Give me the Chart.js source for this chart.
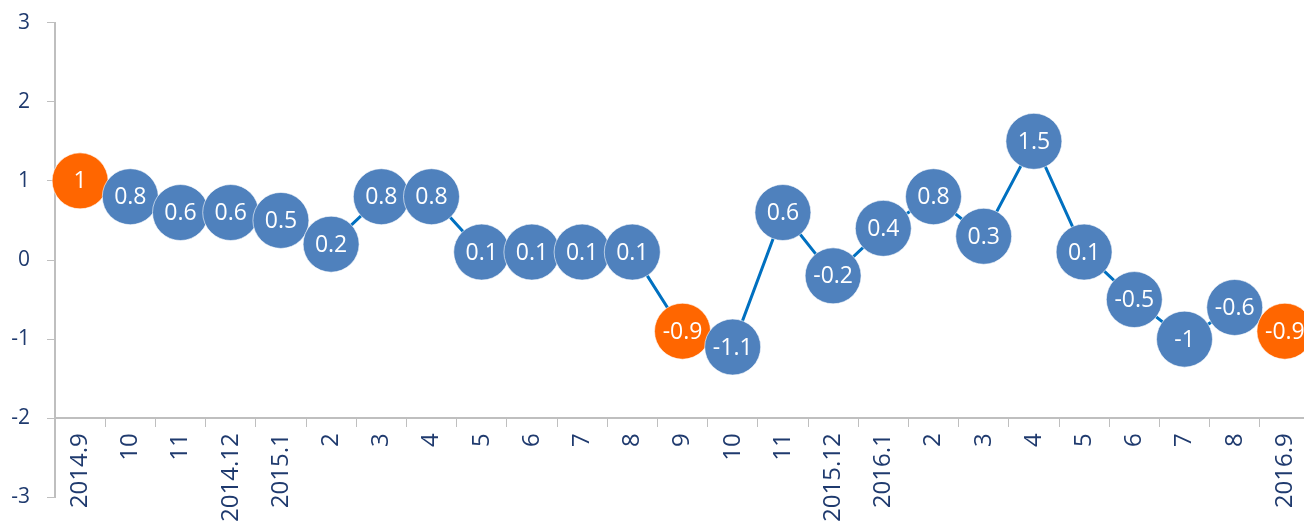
<!DOCTYPE html>
<html>
<head>
<meta charset="utf-8">
<script src="https://cdn.jsdelivr.net/npm/chart.js@4"></script>
<style>
    body { margin: 0; overflow: hidden; background: #fff; }
    /* canvas a bit bigger than the window: the reference cuts off the last marker */
    .wrap { position: absolute; left: 0; top: -7px; width: 1339px; height: 534px; }
</style>
</head>
<body>
<div class="wrap"><canvas id="myChart"></canvas></div>
<script>
const months = ['2014.9', '10', '11', '2014.12', '2015.1', '2', '3', '4', '5', '6', '7', '8', '9',
    '10', '11', '2015.12', '2016.1', '2', '3', '4', '5', '6', '7', '8', '2016.9'];
const values = [1, 0.8, 0.6, 0.6, 0.5, 0.2, 0.8, 0.8, 0.1, 0.1, 0.1, 0.1, -0.9,
    -1.1, 0.6, -0.2, 0.4, 0.8, 0.3, 1.5, 0.1, -0.5, -1, -0.6, -0.9];
const highlighted = [0, 12, 24];
const yTicks = [-3, -2, -1, 0, 1, 2, 3];

const navy = '#1f3a6e';
const axisGrey = '#bfbfbf';

const pointColors = values.map((v, i) => highlighted.includes(i) ? '#ff6600' : '#4f81bd');

// draw the value text inside each marker
const valueLabels = {
    id: 'valueLabels',
    afterDatasetsDraw(chart) {
        const ctx = chart.ctx;
        const meta = chart.getDatasetMeta(0);
        ctx.save();
        ctx.font = '23px "Open Sans"';
        ctx.fillStyle = '#ffffff';
        ctx.textAlign = 'center';
        ctx.textBaseline = 'middle';
        meta.data.forEach((pt, i) => {
            ctx.fillText(String(values[i]), pt.x, pt.y + 1);
        });
        ctx.restore();
    }
};

const ctx = document.getElementById('myChart').getContext('2d');
let chart = new Chart(ctx, {
    type: 'line',
    data: {
        labels: months,
        datasets: [{
            data: values,
            borderColor: '#0070c0',
            borderWidth: 3,
            tension: 0,
            pointRadius: 28,
            pointHoverRadius: 28,
            pointBackgroundColor: pointColors,
            pointBorderColor: 'rgba(255,255,255,0.6)',
            pointBorderWidth: 1
        }]
    },
    options: {
        responsive: true,
        maintainAspectRatio: false,
        animation: false,
        layout: { padding: { top: 15, bottom: 17, left: 0, right: 0 } },
        plugins: {
            legend: { display: false },
            tooltip: { enabled: false }
        },
        scales: {
            x: {
                // category axis crosses the value axis at -2
                position: { y: -2 },
                offset: true,
                grid: {
                    offset: true,
                    drawOnChartArea: false,
                    tickLength: 8,
                    color: axisGrey
                },
                border: { color: axisGrey, width: 2 },
                ticks: {
                    color: navy,
                    font: { family: 'Open Sans', size: 24 },
                    minRotation: 90,
                    maxRotation: 90,
                    autoSkip: false,
                    padding: 7
                }
            },
            y: {
                min: -3,
                max: 3,
                afterFit(scale) { scale.width = 55; },
                afterBuildTicks(scale) { scale.ticks = yTicks.map(v => ({ value: v })); },
                grid: {
                    drawOnChartArea: false,
                    tickLength: 8,
                    color: axisGrey
                },
                border: { color: axisGrey, width: 2 },
                ticks: {
                    color: navy,
                    font: { family: 'Open Sans', size: 21 },
                    padding: 17
                }
            }
        }
    },
    plugins: [valueLabels]
});
</script>
</body>
</html>
